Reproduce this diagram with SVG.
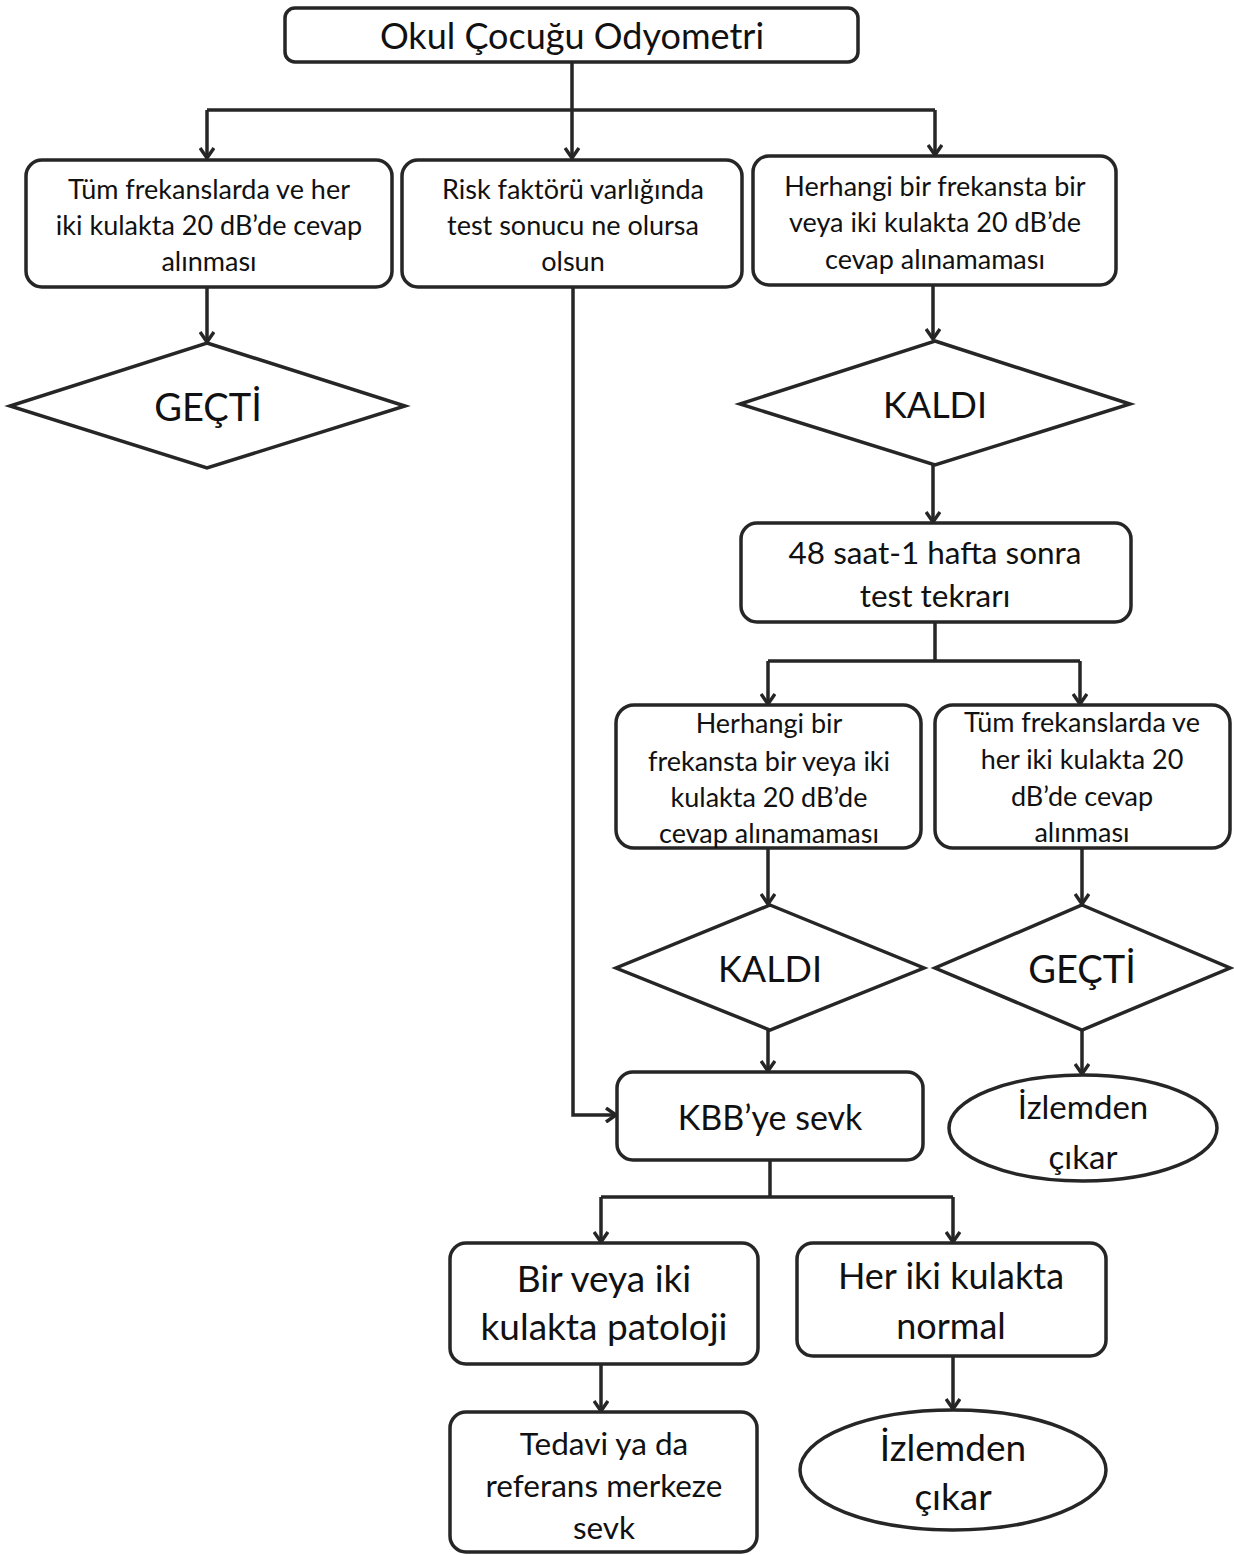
<svg xmlns="http://www.w3.org/2000/svg" width="1234" height="1555" viewBox="0 0 1234 1555">
<style>
.b{fill:#fff;stroke:#262626;stroke-width:3.5}
.c{fill:none;stroke:#262626;stroke-width:3.5}
text{font-family:Lato,"Open Sans","Noto Sans",sans-serif;fill:#111;text-anchor:middle;dominant-baseline:central}
.s{font-size:27px}.m{font-size:31.5px}.l{font-size:36px}.xl{font-size:38px}.k{font-size:36px}
</style>
<defs>
<marker id="a" markerWidth="16" markerHeight="16" refX="13" refY="8" orient="auto" markerUnits="userSpaceOnUse">
<path d="M3,1 L13,8 L3,15" fill="none" stroke="#262626" stroke-width="3.5"/>
</marker>
</defs>
<rect width="1234" height="1555" fill="#fff"/>
<g id="connectors">
<path class="c" d="M572,62 V110"/>
<path class="c" d="M207,110 H935"/>
<path class="c" d="M207,110 V158" marker-end="url(#a)"/>
<path class="c" d="M572,110 V158" marker-end="url(#a)"/>
<path class="c" d="M935,110 V155" marker-end="url(#a)"/>
<path class="c" d="M207,287 V342" marker-end="url(#a)"/>
<path class="c" d="M933,285 V339" marker-end="url(#a)"/>
<path class="c" d="M933,465 V522" marker-end="url(#a)"/>
<path class="c" d="M935,622 V661 M768,661 H1080"/>
<path class="c" d="M768,661 V704" marker-end="url(#a)"/>
<path class="c" d="M1080,661 V704" marker-end="url(#a)"/>
<path class="c" d="M768,848 V904" marker-end="url(#a)"/>
<path class="c" d="M1082,848 V904" marker-end="url(#a)"/>
<path class="c" d="M768,1030 V1071" marker-end="url(#a)"/>
<path class="c" d="M1082,1030 V1074" marker-end="url(#a)"/>
<path class="c" d="M573,287 V1115 H616" marker-end="url(#a)"/>
<path class="c" d="M770,1160 V1197 M601,1197 H953"/>
<path class="c" d="M601,1197 V1242" marker-end="url(#a)"/>
<path class="c" d="M953,1197 V1242" marker-end="url(#a)"/>
<path class="c" d="M601,1364 V1411" marker-end="url(#a)"/>
<path class="c" d="M953,1356 V1409" marker-end="url(#a)"/>
</g>
<g id="n_start"><rect class="b" x="285" y="8" width="573" height="54" rx="10"/><text class="l" x="572" y="35">Okul Çocuğu Odyometri</text></g>
<g id="n_all_ok"><rect class="b" x="26" y="160" width="366" height="127" rx="16"/>
<text class="s" x="209" y="188">Tüm frekanslarda ve her</text><text class="s" x="209" y="224">iki kulakta 20 dB’de cevap</text><text class="s" x="209" y="260">alınması</text></g>
<g id="n_risk"><rect class="b" x="402" y="160" width="340" height="127" rx="16"/>
<text class="s" x="573" y="188">Risk faktörü varlığında</text><text class="s" x="573" y="224">test sonucu ne olursa</text><text class="s" x="573" y="260">olsun</text></g>
<g id="n_fail"><rect class="b" x="753" y="156" width="363" height="129" rx="16"/>
<text class="s" x="935" y="185">Herhangi bir frekansta bir</text><text class="s" x="935" y="221">veya iki kulakta 20 dB’de</text><text class="s" x="935" y="258">cevap alınamaması</text></g>
<g id="n_gecti1"><polygon class="b" points="207,343 405,406 207,468 10,406"/><text class="xl" x="208" y="406">GEÇTİ</text></g>
<g id="n_kaldi1"><polygon class="b" points="935,341 1130,404 935,465 740,404"/><text class="k" x="935" y="404">KALDI</text></g>
<g id="n_retest"><rect class="b" x="741" y="523" width="390" height="99" rx="16"/>
<text class="m" x="935" y="552">48 saat-1 hafta sonra</text><text class="m" x="935" y="595">test tekrarı</text></g>
<g id="n_fail2"><rect class="b" x="616" y="705" width="305" height="143" rx="18"/>
<text class="s" x="769" y="722">Herhangi bir</text><text class="s" x="769" y="760">frekansta bir veya iki</text><text class="s" x="769" y="796">kulakta 20 dB’de</text><text class="s" x="769" y="832">cevap alınamaması</text></g>
<g id="n_ok2"><rect class="b" x="935" y="705" width="295" height="143" rx="18"/>
<text class="s" x="1082" y="721">Tüm frekanslarda ve</text><text class="s" x="1082" y="758">her iki kulakta 20</text><text class="s" x="1082" y="795">dB’de cevap</text><text class="s" x="1082" y="831">alınması</text></g>
<g id="n_kaldi2"><polygon class="b" points="770,905 924,968 770,1030 616,968"/><text class="k" x="770" y="968">KALDI</text></g>
<g id="n_gecti2"><polygon class="b" points="1082,905 1230,968 1082,1030 935,968"/><text class="xl" x="1082" y="968">GEÇTİ</text></g>
<g id="n_kbb"><rect class="b" x="617" y="1072" width="306" height="88" rx="16"/><text style="font-size:34px" x="770" y="1116">KBB’ye sevk</text></g>
<g id="n_exit1"><ellipse class="b" cx="1083" cy="1128" rx="134" ry="53"/><text style="font-size:33px" x="1083" y="1106">İzlemden</text><text style="font-size:33px" x="1083" y="1156">çıkar</text></g>
<g id="n_path"><rect class="b" x="450" y="1243" width="308" height="121" rx="16"/>
<text style="font-size:37px" x="604" y="1277">Bir veya iki</text><text style="font-size:37px" x="604" y="1325">kulakta patoloji</text></g>
<g id="n_normal"><rect class="b" x="797" y="1243" width="309" height="113" rx="16"/>
<text class="l" x="951" y="1275">Her iki kulakta</text><text class="l" x="951" y="1325">normal</text></g>
<g id="n_treat"><rect class="b" x="450" y="1412" width="307" height="140" rx="16"/>
<text class="m" x="604" y="1443">Tedavi ya da</text><text class="m" x="604" y="1485">referans merkeze</text><text class="m" x="604" y="1527">sevk</text></g>
<g id="n_exit2"><ellipse class="b" cx="953" cy="1470" rx="153" ry="60"/><text style="font-size:37px" x="953" y="1446">İzlemden</text><text style="font-size:37px" x="953" y="1495">çıkar</text></g>
</svg>
